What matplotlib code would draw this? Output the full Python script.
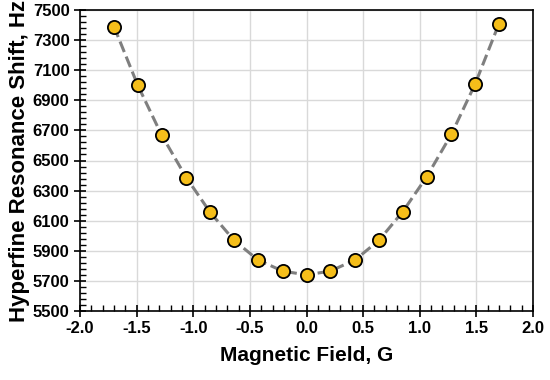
import matplotlib
matplotlib.use("Agg")
import matplotlib.pyplot as plt
import numpy as np
from matplotlib.ticker import MultipleLocator

plt.rcParams['font.family'] = ['Liberation Sans', 'DejaVu Sans']

# Measured data
field = [-1.70, -1.49, -1.28, -1.06, -0.85, -0.64, -0.43, -0.21, 0.0,
         0.21, 0.43, 0.64, 0.85, 1.06, 1.28, 1.49, 1.70]
shift = [7390, 7000, 6670, 6385, 6155, 5970, 5840, 5765, 5740,
         5765, 5840, 5970, 6160, 6390, 6675, 7010, 7410]

fig = plt.figure(figsize=(5.5, 3.8), dpi=100)
ax = fig.add_axes([80 / 550, 69 / 380, 453 / 550, 301 / 380])

ax.plot(field, shift, linestyle='--', color='#7f7f7f', linewidth=2.2, zorder=2)
ax.plot(field, shift, linestyle='none', marker='o', markersize=9.5,
        markerfacecolor='#F5BE1A', markeredgecolor='black', markeredgewidth=1.3, zorder=3)

ax.set_xlim(-2.0, 2.0)
ax.set_ylim(5500, 7500)
ax.xaxis.set_major_locator(MultipleLocator(0.5))
ax.xaxis.set_minor_locator(MultipleLocator(0.1))
ax.set_yticks(np.arange(5500, 7501, 200))
ax.set_yticks(np.arange(5500, 7501, 40), minor=True)
ax.xaxis.set_major_formatter(plt.FormatStrFormatter('%.1f'))

ax.tick_params(which='major', direction='inout', length=8, width=1.2)
ax.tick_params(which='minor', direction='in', length=4, width=1)
ax.grid(which='major', color='#d9d9d9', linewidth=1)
ax.set_axisbelow(True)
for s in ax.spines.values():
    s.set_linewidth(1.2)

for lbl in ax.get_xticklabels() + ax.get_yticklabels():
    lbl.set_fontweight('bold')
    lbl.set_fontsize(12)

ax.set_xlabel('Magnetic Field, G', fontsize=15, fontweight='bold', labelpad=7)
ax.set_ylabel('Hyperfine Resonance Shift, Hz', fontsize=16, fontweight='bold', labelpad=2)

fig.savefig('out.png', dpi=100)
